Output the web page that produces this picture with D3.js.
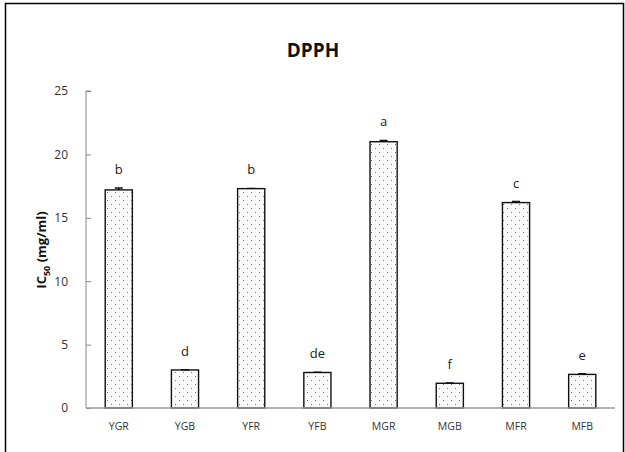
<!DOCTYPE html>
<html>
<head>
<meta charset="utf-8">
<script src="https://cdn.jsdelivr.net/npm/d3@7"></script>
<style>
  body { margin: 0; background: #fff; }
  text { font-family: "Open Sans", "Noto Sans", sans-serif; }
</style>
</head>
<body>
<div id="chart"></div>
<script>
// data
let samples = ["YGR", "YGB", "YFR", "YFB", "MGR", "MGB", "MFR", "MFB"];
let ic50 = [17.2, 3.0, 17.3, 2.8, 21.0, 1.95, 16.2, 2.65];
let errors = [0.15, 0.02, 0.02, 0.02, 0.1, 0.02, 0.08, 0.06];
let groups = ["b", "d", "b", "de", "a", "f", "c", "e"];
let yTicks = [0, 5, 10, 15, 20, 25];

let svgWidth = 625;
let svgHeight = 452;

let margin = { top: 91, right: 10, bottom: 44, left: 86 };
let width = 615 - margin.left;
let height = 408 - margin.top;

let svg = d3.select("#chart")
  .append("svg")
  .attr("width", svgWidth)
  .attr("height", svgHeight);

// dotted fill pattern
let defs = svg.append("defs");
let pat = defs.append("pattern")
  .attr("id", "dots")
  .attr("patternUnits", "userSpaceOnUse")
  .attr("width", 8)
  .attr("height", 8);
pat.append("rect").attr("width", 8).attr("height", 8).attr("fill", "#fbfbfb");
pat.append("rect").attr("x", 1).attr("y", 1).attr("width", 1).attr("height", 1).attr("fill", "#777");
pat.append("rect").attr("x", 5).attr("y", 5).attr("width", 1).attr("height", 1).attr("fill", "#777");

// outer frame
svg.append("rect")
  .attr("x", 5.5)
  .attr("y", 3.5)
  .attr("width", 618)
  .attr("height", 460)
  .attr("fill", "none")
  .attr("stroke", "#000")
  .attr("stroke-width", 1.5);

svg.append("text")
  .attr("x", 313)
  .attr("y", 57)
  .attr("text-anchor", "middle")
  .attr("font-size", 19)
  .attr("font-weight", "bold")
  .attr("fill", "#111")
  .text("DPPH");

let chartGroup = svg.append("g")
  .attr("transform", `translate(${margin.left}, ${margin.top})`);

let xScale = d3.scaleBand()
  .domain(samples)
  .range([0, width])
  .paddingInner(0.59)
  .paddingOuter(0.29);

let yScale = d3.scaleLinear()
  .domain([0, 25])
  .range([height, 0]);

// y axis
let leftAxis = d3.axisLeft(yScale)
  .tickValues(yTicks)
  .tickSize(5)
  .tickPadding(13);

let yAxis = chartGroup.append("g").call(leftAxis);
yAxis.select(".domain").attr("stroke", "#888").attr("d", `M0,${height}V0h5`);
yAxis.selectAll(".tick line").attr("stroke", "#888").attr("x2", 5).attr("x1", 0);
yAxis.selectAll(".tick text")
  .attr("font-size", 12)
  .attr("fill", "#333")
  .attr("font-family", "Open Sans, sans-serif");

// bars
chartGroup.selectAll(".bar")
  .data(samples)
  .enter()
  .append("rect")
  .attr("class", "bar")
  .attr("x", d => xScale(d))
  .attr("y", (d, i) => yScale(ic50[i]))
  .attr("width", xScale.bandwidth())
  .attr("height", (d, i) => height - yScale(ic50[i]))
  .attr("fill", "url(#dots)")
  .attr("stroke", "#111")
  .attr("stroke-width", 1.4);

// error bars
chartGroup.selectAll(".err")
  .data(samples)
  .enter()
  .append("path")
  .attr("class", "err")
  .attr("d", (d, i) => {
    let cx = xScale(d) + xScale.bandwidth() / 2;
    let y1 = yScale(ic50[i] + errors[i]);
    let y0 = yScale(ic50[i]);
    return `M${cx},${y0}V${y1}M${cx - 4},${y1}H${cx + 4}`;
  })
  .attr("stroke", "#111")
  .attr("stroke-width", 1.4)
  .attr("fill", "none");

// x axis line
chartGroup.append("line")
  .attr("x1", 0)
  .attr("x2", width)
  .attr("y1", height)
  .attr("y2", height)
  .attr("stroke", "#999")
  .attr("stroke-width", 1.5);

// category labels
chartGroup.selectAll(".cat")
  .data(samples)
  .enter()
  .append("text")
  .attr("class", "cat")
  .attr("x", d => xScale(d) + xScale.bandwidth() / 2)
  .attr("y", height + 22)
  .attr("text-anchor", "middle")
  .attr("font-size", 10.5)
  .attr("fill", "#333")
  .text(d => d);

// significance letters
chartGroup.selectAll(".grp")
  .data(samples)
  .enter()
  .append("text")
  .attr("class", "grp")
  .attr("x", d => xScale(d) + xScale.bandwidth() / 2)
  .attr("y", (d, i) => yScale(ic50[i] + errors[i]) - 14)
  .attr("text-anchor", "middle")
  .attr("font-size", 13)
  .attr("fill", "#222")
  .text((d, i) => groups[i]);

// y axis title
let yTitle = svg.append("text")
  .attr("transform", "translate(46, 250) rotate(-90)")
  .attr("text-anchor", "middle")
  .attr("font-size", 13)
  .attr("font-weight", "bold")
  .attr("fill", "#111");
yTitle.append("tspan").text("IC");
yTitle.append("tspan").attr("font-size", 9).attr("dy", 4).text("50");
yTitle.append("tspan").attr("dy", -4).text(" (mg/ml)");
</script>
</body>
</html>
